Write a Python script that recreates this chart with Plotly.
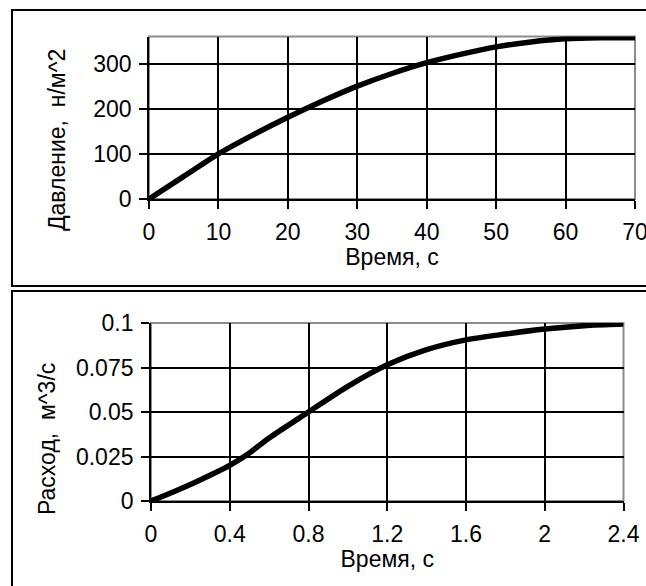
import plotly.graph_objects as go
from plotly.subplots import make_subplots

# Top chart: pressure vs time
time_p = [0, 5, 10, 15, 20, 25, 30, 35, 40, 45, 50, 55, 60, 65, 70]
pressure = [0, 50, 100, 142, 181, 217, 250, 278, 302, 321, 337, 348, 355, 357, 357]
p_xticks = [0, 10, 20, 30, 40, 50, 60, 70]
p_yticks = [0, 100, 200, 300]

# Bottom chart: flow vs time
time_q = [0, 0.1, 0.2, 0.3, 0.4, 0.5, 0.6, 0.8, 1.0, 1.2, 1.4, 1.6, 1.8, 2.0, 2.2, 2.4]
flow = [0, 0.0045, 0.0093, 0.0145, 0.020, 0.027, 0.0354, 0.050, 0.0644, 0.0765,
        0.085, 0.0905, 0.0938, 0.0966, 0.0985, 0.0994]
q_xticks = [0, 0.4, 0.8, 1.2, 1.6, 2.0, 2.4]
q_xtext = ["0", "0.4", "0.8", "1.2", "1.6", "2", "2.4"]
q_yticks = [0, 0.025, 0.05, 0.075, 0.1]
q_ytext = ["0", "0.025", "0.05", "0.075", "0.1"]

x_title = "Время, с"
p_title = "Давление,  н/м^2"
q_title = "Расход,  м^3/с"

W, H = 646, 586
FONT = "Liberation Sans, Arial, sans-serif"
TICK_SIZE = 23
TITLE_SIZE = 23

fig = make_subplots(rows=2, cols=1)
fig.add_trace(go.Scatter(x=time_p, y=pressure, mode="lines",
                         line=dict(color="black", width=5.5, shape="spline", smoothing=0.8),
                         showlegend=False), row=1, col=1)
fig.add_trace(go.Scatter(x=time_q, y=flow, mode="lines",
                         line=dict(color="black", width=5.5, shape="spline", smoothing=0.8),
                         showlegend=False), row=2, col=1)


def axis(domain, rng, tickvals, ticktext, title, label_gap):
    grid_vals = [v for v in tickvals if rng[0] < v < rng[1]]
    d = dict(domain=domain, range=rng, tickmode="array", tickvals=tickvals, ticktext=ticktext,
             showline=True, linecolor="black", linewidth=1.8,
             ticks="outside", ticklen=8, tickwidth=1.8, tickcolor="black",
             ticklabelstandoff=label_gap, ticklabeloverflow="allow",
             showgrid=False, zeroline=False, automargin=False,
             minor=dict(tickmode="array", tickvals=grid_vals,
                        showgrid=True, gridcolor="black", gridwidth=1.8, ticks=""),
             tickfont=dict(family=FONT, size=TICK_SIZE, color="black"))
    if title:
        d["title"] = dict(text=title, font=dict(family=FONT, size=TITLE_SIZE, color="black"),
                          standoff=2)
    return d


fig.update_layout(
    width=W, height=H, margin=dict(l=0, r=0, t=0, b=0, autoexpand=False),
    paper_bgcolor="white", plot_bgcolor="white",
    font=dict(family=FONT, color="black"),
    xaxis=axis([149 / W, 635 / W], [0, 70], p_xticks, [str(v) for v in p_xticks], x_title, 3),
    yaxis=axis([1 - 199 / H, 1 - 36.5 / H], [0, 360], p_yticks, [str(v) for v in p_yticks], None, 3),
    xaxis2=axis([151 / W, 623.5 / W], [0, 2.4], q_xticks, q_xtext, x_title, 3),
    yaxis2=axis([1 - 501 / H, 1 - 323 / H], [0, 0.1], q_yticks, q_ytext, None, 3),
)

fig.add_annotation(text=p_title, xref="paper", yref="paper", x=57 / W, y=1 - 140 / H,
                   textangle=-90, showarrow=False, xanchor="center", yanchor="middle",
                   font=dict(family=FONT, size=TITLE_SIZE, color="black"))
fig.add_annotation(text=q_title, xref="paper", yref="paper", x=47 / W, y=1 - 439 / H,
                   textangle=-90, showarrow=False, xanchor="center", yanchor="middle",
                   font=dict(family=FONT, size=TITLE_SIZE, color="black"))

shapes = [
    # outer frames
    dict(type="rect", xref="paper", yref="paper", x0=12 / W, x1=1.05,
         y0=1 - 286 / H, y1=1 - 10 / H, line=dict(color="black", width=2), layer="above"),
    dict(type="rect", xref="paper", yref="paper", x0=12 / W, x1=1.05,
         y0=-0.05, y1=1 - 291 / H, line=dict(color="black", width=2), layer="above"),
    # gray plot-area frames
    dict(type="rect", xref="x domain", yref="y domain", x0=0, x1=1, y0=0, y1=1,
         line=dict(color="#8c8c8c", width=2), layer="below"),
    dict(type="rect", xref="x2 domain", yref="y2 domain", x0=0, x1=1, y0=0, y1=1,
         line=dict(color="#8c8c8c", width=2), layer="below"),
]
fig.update_layout(shapes=shapes)

fig.write_html("out.html", config={"displayModeBar": False},
               post_script="document.body.style.margin='0';")
